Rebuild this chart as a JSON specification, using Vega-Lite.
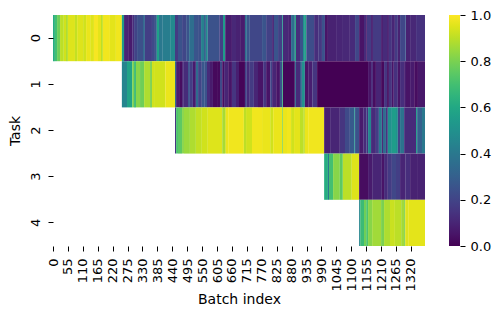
{
"$schema":"https://vega.github.io/schema/vega-lite/v6.json",
"width":372,"height":231,
"autosize":"none",
"padding":{"left":53,"top":15,"right":76,"bottom":75},
"background":"white",
"config":{"view":{"stroke":null},"font":"DejaVu Sans"},
"layer":[
{"data":{"values":[
{"task":0,"start":0,"end":7,"value":0.62},{"task":0,"start":7,"end":15,"value":0.7},{"task":0,"start":15,"end":26,"value":0.78},{"task":0,"start":26,"end":40,"value":0.9},{"task":0,"start":40,"end":48,"value":0.93},{"task":0,"start":48,"end":55,"value":0.88},{"task":0,"start":55,"end":81,"value":0.95},{"task":0,"start":81,"end":89,"value":0.91},{"task":0,"start":89,"end":111,"value":0.95},{"task":0,"start":111,"end":122,"value":0.93},{"task":0,"start":122,"end":137,"value":0.97},{"task":0,"start":137,"end":151,"value":0.95},{"task":0,"start":151,"end":166,"value":0.99},{"task":0,"start":166,"end":177,"value":0.96},{"task":0,"start":177,"end":184,"value":0.9},{"task":0,"start":184,"end":210,"value":0.98},{"task":0,"start":210,"end":232,"value":0.96},{"task":0,"start":232,"end":254,"value":0.98},
{"task":0,"start":254,"end":262,"value":0.55},{"task":0,"start":262,"end":277,"value":0.1},{"task":0,"start":277,"end":292,"value":0.07},{"task":0,"start":292,"end":299,"value":0.13},{"task":0,"start":299,"end":310,"value":0.2},{"task":0,"start":310,"end":332,"value":0.24},{"task":0,"start":332,"end":339,"value":0.33},{"task":0,"start":339,"end":365,"value":0.18},{"task":0,"start":365,"end":376,"value":0.22},{"task":0,"start":376,"end":383,"value":0.28},{"task":0,"start":383,"end":391,"value":0.57},{"task":0,"start":391,"end":405,"value":0.4},{"task":0,"start":405,"end":432,"value":0.42},{"task":0,"start":432,"end":450,"value":0.47},
{"task":0,"start":450,"end":461,"value":0.17},{"task":0,"start":461,"end":476,"value":0.25},{"task":0,"start":476,"end":491,"value":0.21},{"task":0,"start":491,"end":502,"value":0.26},{"task":0,"start":502,"end":520,"value":0.36},{"task":0,"start":520,"end":535,"value":0.26},{"task":0,"start":535,"end":546,"value":0.24},{"task":0,"start":546,"end":557,"value":0.43},{"task":0,"start":557,"end":564,"value":0.3},{"task":0,"start":564,"end":571,"value":0.47},{"task":0,"start":571,"end":613,"value":0.25},{"task":0,"start":613,"end":627,"value":0.19},{"task":0,"start":627,"end":635,"value":0.55},{"task":0,"start":635,"end":660,"value":0.07},{"task":0,"start":660,"end":675,"value":0.11},{"task":0,"start":675,"end":690,"value":0.09},{"task":0,"start":690,"end":708,"value":0.07},{"task":0,"start":708,"end":715,"value":0.36},{"task":0,"start":715,"end":726,"value":0.26},{"task":0,"start":726,"end":771,"value":0.21},{"task":0,"start":771,"end":786,"value":0.26},{"task":0,"start":786,"end":808,"value":0.19},{"task":0,"start":808,"end":815,"value":0.11},{"task":0,"start":815,"end":830,"value":0.26},{"task":0,"start":830,"end":845,"value":0.19},{"task":0,"start":845,"end":848,"value":0.55},{"task":0,"start":848,"end":867,"value":0.11},{"task":0,"start":867,"end":878,"value":0.09},{"task":0,"start":878,"end":892,"value":0.36},{"task":0,"start":892,"end":896,"value":0.6},{"task":0,"start":896,"end":911,"value":0.13},{"task":0,"start":911,"end":922,"value":0.25},{"task":0,"start":922,"end":929,"value":0.5},{"task":0,"start":929,"end":934,"value":0.6},{"task":0,"start":934,"end":963,"value":0.23},{"task":0,"start":963,"end":978,"value":0.13},{"task":0,"start":978,"end":992,"value":0.16},{"task":0,"start":992,"end":1003,"value":0.25},{"task":0,"start":1003,"end":1014,"value":0.05},{"task":0,"start":1014,"end":1029,"value":0.09},{"task":0,"start":1029,"end":1044,"value":0.09},{"task":0,"start":1044,"end":1066,"value":0.1},{"task":0,"start":1066,"end":1095,"value":0.11},{"task":0,"start":1095,"end":1114,"value":0.12},{"task":0,"start":1114,"end":1129,"value":0.21},{"task":0,"start":1129,"end":1147,"value":0.05},{"task":0,"start":1147,"end":1155,"value":0.12},{"task":0,"start":1155,"end":1158,"value":0.05},{"task":0,"start":1158,"end":1173,"value":0.17},{"task":0,"start":1173,"end":1180,"value":0.08},{"task":0,"start":1180,"end":1210,"value":0.17},{"task":0,"start":1210,"end":1217,"value":0.07},{"task":0,"start":1217,"end":1232,"value":0.12},{"task":0,"start":1232,"end":1239,"value":0.08},{"task":0,"start":1239,"end":1250,"value":0.15},{"task":0,"start":1250,"end":1261,"value":0.1},{"task":0,"start":1261,"end":1272,"value":0.17},{"task":0,"start":1272,"end":1280,"value":0.09},{"task":0,"start":1280,"end":1299,"value":0.21},{"task":0,"start":1299,"end":1302,"value":0.26},{"task":0,"start":1302,"end":1317,"value":0.09},{"task":0,"start":1317,"end":1339,"value":0.11},{"task":0,"start":1339,"end":1372,"value":0.14},
{"task":1,"start":254,"end":273,"value":0.45},{"task":1,"start":273,"end":292,"value":0.58},{"task":1,"start":292,"end":299,"value":0.8},{"task":1,"start":299,"end":306,"value":0.68},{"task":1,"start":306,"end":321,"value":0.82},{"task":1,"start":321,"end":336,"value":0.78},{"task":1,"start":336,"end":358,"value":0.88},{"task":1,"start":358,"end":365,"value":0.8},{"task":1,"start":365,"end":376,"value":0.93},{"task":1,"start":376,"end":414,"value":0.93},{"task":1,"start":414,"end":450,"value":0.97},
{"task":1,"start":450,"end":454,"value":0.35},{"task":1,"start":454,"end":465,"value":0.08},{"task":1,"start":465,"end":476,"value":0.03},{"task":1,"start":476,"end":480,"value":0.1},{"task":1,"start":480,"end":498,"value":0.12},{"task":1,"start":498,"end":505,"value":0.25},{"task":1,"start":505,"end":516,"value":0.18},{"task":1,"start":516,"end":527,"value":0.07},{"task":1,"start":527,"end":535,"value":0.35},{"task":1,"start":535,"end":549,"value":0.2},{"task":1,"start":549,"end":560,"value":0.27},{"task":1,"start":560,"end":568,"value":0.25},{"task":1,"start":568,"end":579,"value":0.12},{"task":1,"start":579,"end":590,"value":0.07},{"task":1,"start":590,"end":605,"value":0.02},{"task":1,"start":605,"end":616,"value":0.02},{"task":1,"start":616,"end":624,"value":0.22},{"task":1,"start":624,"end":631,"value":0.03},{"task":1,"start":631,"end":646,"value":0.1},{"task":1,"start":646,"end":660,"value":0.05},{"task":1,"start":660,"end":675,"value":0.15},{"task":1,"start":675,"end":686,"value":0.08},{"task":1,"start":686,"end":708,"value":0.01},{"task":1,"start":708,"end":715,"value":0.2},{"task":1,"start":715,"end":726,"value":0.12},{"task":1,"start":726,"end":741,"value":0.17},{"task":1,"start":741,"end":756,"value":0.1},{"task":1,"start":756,"end":775,"value":0.05},{"task":1,"start":775,"end":786,"value":0.15},{"task":1,"start":786,"end":801,"value":0.05},{"task":1,"start":801,"end":808,"value":0.2},{"task":1,"start":808,"end":823,"value":0.1},{"task":1,"start":823,"end":837,"value":0.05},{"task":1,"start":837,"end":845,"value":0.25},{"task":1,"start":845,"end":848,"value":0.65},{"task":1,"start":848,"end":892,"value":0.01},{"task":1,"start":892,"end":896,"value":0.35},{"task":1,"start":896,"end":911,"value":0.12},{"task":1,"start":911,"end":918,"value":0.3},{"task":1,"start":918,"end":929,"value":0.5},{"task":1,"start":929,"end":941,"value":0.05},{"task":1,"start":941,"end":956,"value":0.08},{"task":1,"start":956,"end":974,"value":0.15},{"task":1,"start":974,"end":1162,"value":0.0},{"task":1,"start":1162,"end":1173,"value":0.05},{"task":1,"start":1173,"end":1180,"value":0.12},{"task":1,"start":1180,"end":1191,"value":0.03},{"task":1,"start":1191,"end":1210,"value":0.1},{"task":1,"start":1210,"end":1221,"value":0.02},{"task":1,"start":1221,"end":1232,"value":0.15},{"task":1,"start":1232,"end":1239,"value":0.04},{"task":1,"start":1239,"end":1250,"value":0.15},{"task":1,"start":1250,"end":1257,"value":0.05},{"task":1,"start":1257,"end":1272,"value":0.14},{"task":1,"start":1272,"end":1280,"value":0.05},{"task":1,"start":1280,"end":1295,"value":0.13},{"task":1,"start":1295,"end":1302,"value":0.08},{"task":1,"start":1302,"end":1317,"value":0.05},{"task":1,"start":1317,"end":1332,"value":0.07},{"task":1,"start":1332,"end":1346,"value":0.03},{"task":1,"start":1346,"end":1372,"value":0.06},
{"task":2,"start":450,"end":454,"value":0.15},{"task":2,"start":454,"end":461,"value":0.72},{"task":2,"start":461,"end":476,"value":0.75},{"task":2,"start":476,"end":483,"value":0.82},{"task":2,"start":483,"end":505,"value":0.85},{"task":2,"start":505,"end":527,"value":0.88},{"task":2,"start":527,"end":549,"value":0.91},{"task":2,"start":549,"end":571,"value":0.93},{"task":2,"start":571,"end":624,"value":0.95},{"task":2,"start":624,"end":635,"value":0.87},{"task":2,"start":635,"end":638,"value":0.92},{"task":2,"start":638,"end":646,"value":0.97},{"task":2,"start":646,"end":704,"value":0.98},{"task":2,"start":704,"end":712,"value":0.9},{"task":2,"start":712,"end":734,"value":0.93},{"task":2,"start":734,"end":771,"value":0.98},{"task":2,"start":771,"end":801,"value":0.97},{"task":2,"start":801,"end":812,"value":0.93},{"task":2,"start":812,"end":845,"value":0.97},{"task":2,"start":845,"end":848,"value":0.8},{"task":2,"start":848,"end":863,"value":0.97},{"task":2,"start":863,"end":878,"value":0.98},{"task":2,"start":878,"end":889,"value":0.93},{"task":2,"start":889,"end":911,"value":0.96},{"task":2,"start":911,"end":925,"value":0.9},{"task":2,"start":925,"end":929,"value":0.9},{"task":2,"start":929,"end":941,"value":0.97},{"task":2,"start":941,"end":1000,"value":0.98},
{"task":2,"start":1000,"end":1022,"value":0.08},{"task":2,"start":1022,"end":1058,"value":0.1},{"task":2,"start":1058,"end":1077,"value":0.15},{"task":2,"start":1077,"end":1095,"value":0.22},{"task":2,"start":1095,"end":1111,"value":0.28},{"task":2,"start":1111,"end":1114,"value":0.5},{"task":2,"start":1114,"end":1129,"value":0.25},{"task":2,"start":1129,"end":1144,"value":0.07},{"task":2,"start":1144,"end":1155,"value":0.12},{"task":2,"start":1155,"end":1158,"value":0.2},{"task":2,"start":1158,"end":1162,"value":0.14},{"task":2,"start":1162,"end":1173,"value":0.45},{"task":2,"start":1173,"end":1191,"value":0.12},{"task":2,"start":1191,"end":1202,"value":0.18},{"task":2,"start":1202,"end":1213,"value":0.4},{"task":2,"start":1213,"end":1217,"value":0.1},{"task":2,"start":1217,"end":1228,"value":0.35},{"task":2,"start":1228,"end":1235,"value":0.15},{"task":2,"start":1235,"end":1250,"value":0.5},{"task":2,"start":1250,"end":1265,"value":0.55},{"task":2,"start":1265,"end":1272,"value":0.5},{"task":2,"start":1272,"end":1280,"value":0.2},{"task":2,"start":1280,"end":1295,"value":0.38},{"task":2,"start":1295,"end":1339,"value":0.12},{"task":2,"start":1339,"end":1343,"value":0.55},{"task":2,"start":1343,"end":1361,"value":0.3},{"task":2,"start":1361,"end":1372,"value":0.4},
{"task":3,"start":1000,"end":1014,"value":0.62},{"task":3,"start":1014,"end":1018,"value":0.4},{"task":3,"start":1018,"end":1033,"value":0.7},{"task":3,"start":1033,"end":1058,"value":0.82},{"task":3,"start":1058,"end":1069,"value":0.75},{"task":3,"start":1069,"end":1102,"value":0.9},{"task":3,"start":1102,"end":1129,"value":0.95},
{"task":3,"start":1129,"end":1162,"value":0.03},{"task":3,"start":1162,"end":1177,"value":0.07},{"task":3,"start":1177,"end":1213,"value":0.1},{"task":3,"start":1213,"end":1221,"value":0.05},{"task":3,"start":1221,"end":1235,"value":0.12},{"task":3,"start":1235,"end":1250,"value":0.17},{"task":3,"start":1250,"end":1265,"value":0.21},{"task":3,"start":1265,"end":1280,"value":0.18},{"task":3,"start":1280,"end":1299,"value":0.1},{"task":3,"start":1299,"end":1317,"value":0.13},{"task":3,"start":1317,"end":1346,"value":0.09},{"task":3,"start":1346,"end":1372,"value":0.09},
{"task":4,"start":1129,"end":1133,"value":0.45},{"task":4,"start":1133,"end":1147,"value":0.68},{"task":4,"start":1147,"end":1155,"value":0.78},{"task":4,"start":1155,"end":1162,"value":0.72},{"task":4,"start":1162,"end":1177,"value":0.82},{"task":4,"start":1177,"end":1210,"value":0.86},{"task":4,"start":1210,"end":1221,"value":0.8},{"task":4,"start":1221,"end":1243,"value":0.88},{"task":4,"start":1243,"end":1261,"value":0.92},{"task":4,"start":1261,"end":1284,"value":0.9},{"task":4,"start":1284,"end":1295,"value":0.86},{"task":4,"start":1295,"end":1299,"value":0.8},{"task":4,"start":1299,"end":1310,"value":0.95},{"task":4,"start":1310,"end":1372,"value":0.96}
]},
"mark":{"type":"rect","stroke":null},
"encoding":{
"x":{"field":"start","type":"quantitative","scale":{"domain":[0,1372],"nice":false,"zero":false},
"axis":{"values":[0,55,110,165,220,275,330,385,440,495,550,605,660,715,770,825,880,935,990,1045,1100,1155,1210,1265,1320],"format":"d","labelAngle":-90,"labelAlign":"right","labelBaseline":"middle","labelFontSize":13,"labelColor":"black","tickColor":"black","tickSize":5,"labelPadding":7,"domain":false,"grid":false,"title":"Batch index","titleFontSize":14,"titleFontWeight":"normal","titleColor":"black","titlePadding":1,"labelOverlap":false,"labelFlush":false}},
"x2":{"field":"end"},
"y":{"field":"task","type":"ordinal","scale":{"domain":[0,1,2,3,4],"paddingInner":0,"paddingOuter":0},
"axis":{"labelAngle":-90,"labelAlign":"center","labelBaseline":"middle","labelFontSize":13,"labelColor":"black","tickColor":"black","tickSize":5,"labelPadding":13,"domain":false,"grid":false,"title":"Task","titleFontSize":14,"titleFontWeight":"normal","titleColor":"black","titlePadding":7}},
"color":{"field":"value","type":"quantitative","scale":{"scheme":"viridis","domain":[0,1]},
"legend":{"orient":"none","legendX":396,"legendY":0,"title":null,"gradientLength":231,"gradientThickness":11,"labels":true,"labelExpr":"''","direction":"vertical","tickCount":5}}
}},
{"data":{"values":[{"level":0},{"level":0.2},{"level":0.4},{"level":0.6},{"level":0.8},{"level":1}]},
"mark":{"type":"point","opacity":0},
"encoding":{
"y":{"field":"level","type":"quantitative","scale":{"domain":[0,1],"nice":false},
"axis":{"orient":"right","offset":35,"values":[0,0.2,0.4,0.6,0.8,1],"format":".1f","labelFontSize":13,"labelColor":"black","tickColor":"black","tickSize":5,"labelPadding":5,"domain":false,"grid":false,"title":null}}
}}
],
"resolve":{"scale":{"y":"independent"}}
}
